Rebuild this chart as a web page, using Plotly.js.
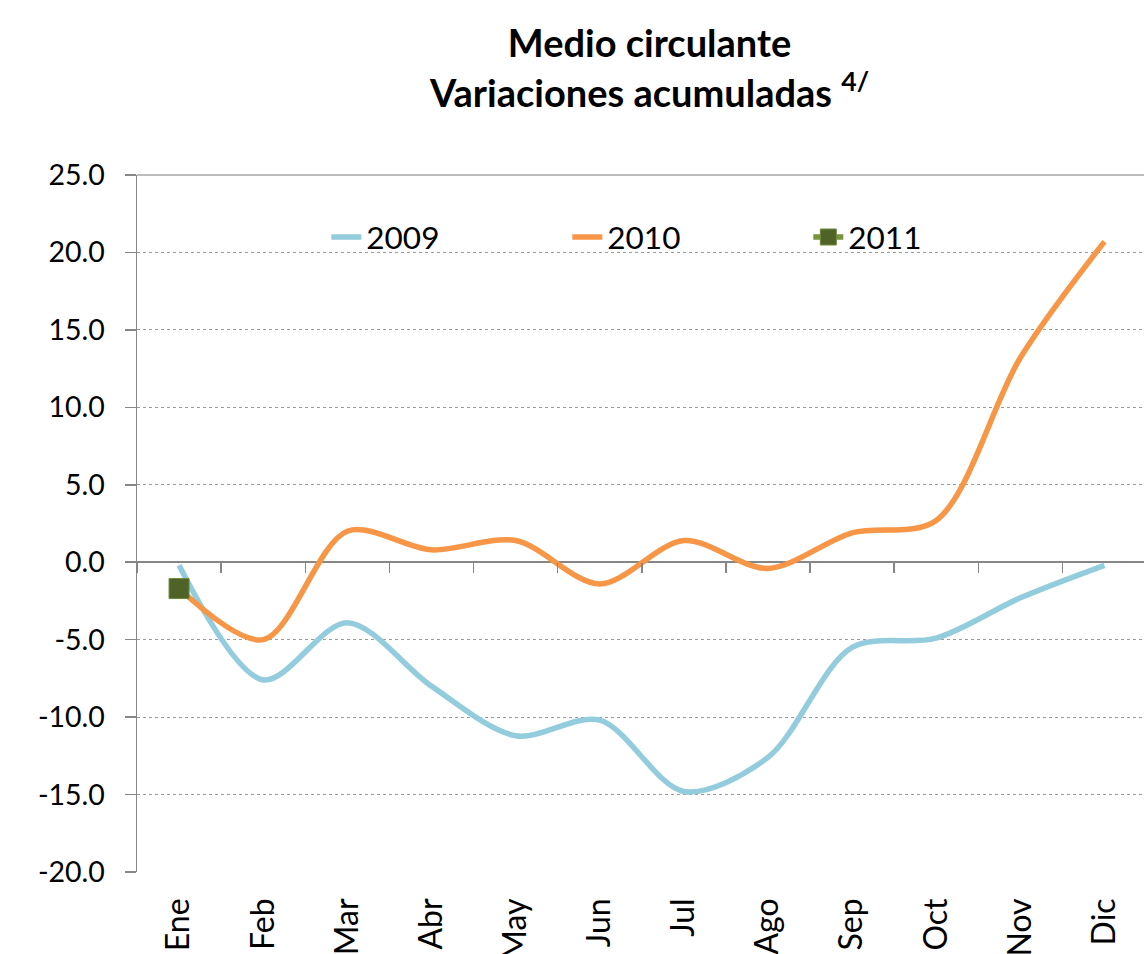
<!DOCTYPE html>
<html>
<head>
<meta charset="utf-8">
<script src="https://cdn.plot.ly/plotly-3.0.1.min.js"></script>
<style>html,body{margin:0;padding:0;background:#fff;}#chart{width:1144px;height:954px;}</style>
</head>
<body>
<div id="chart"></div>
<script>
const months = ["Ene","Feb","Mar","Abr","May","Jun","Jul","Ago","Sep","Oct","Nov","Dic"];
const y2009 = [-0.2,-7.6,-3.9,-8.0,-11.2,-10.2,-14.8,-12.6,-5.5,-4.9,-2.3,-0.2];
const y2010 = [-1.7,-5.0,2.0,0.8,1.4,-1.4,1.4,-0.4,1.9,2.7,13.2,20.7];
const months2011 = ["Ene"];
const y2011 = [-1.7];
const yTickVals = [-20,-15,-10,-5,0,5,10,15,20,25];
const yTickText = ["-20.0","-15.0","-10.0","-5.0","0.0","5.0","10.0","15.0","20.0","25.0"];

const FONT = "Lato, 'Open Sans', sans-serif";

const traces = [
  {x: months, y: y2009, name: "2009", type: "scatter", mode: "lines",
   line: {color: "#93CDDD", width: 5.5, shape: "spline", smoothing: 0.9}},
  {x: months, y: y2010, name: "2010", type: "scatter", mode: "lines",
   line: {color: "#F79646", width: 5.5, shape: "spline", smoothing: 0.9}},
  {x: months2011, y: y2011, name: "2011", type: "scatter", mode: "lines+markers",
   line: {color: "#77933C", width: 5.5},
   marker: {symbol: "square", size: 20, color: "#4F6228", line: {color: "#6E8A3A", width: 1}}},
  {x: months, y: months.map(() => null), xaxis: "x2", type: "scatter", mode: "lines",
   showlegend: false, hoverinfo: "skip"}
];

const layout = {
  width: 1144, height: 954,
  margin: {l: 137, r: 0, t: 175, b: 82, autoexpand: false},
  paper_bgcolor: "#fff", plot_bgcolor: "#fff",
  font: {family: FONT, color: "#000", size: 28},
  title: {text: "<b>Medio circulante<br>Variaciones acumuladas <sup>4/</sup></b>",
          x: 0.509, xanchor: "center", xref: "paper", y: 0.94, yref: "container", yanchor: "top",
          font: {family: FONT, size: 38, color: "#000"}},
  showlegend: true,
  legend: {orientation: "h", x: 0.188, xanchor: "left", y: 0.911, yanchor: "middle",
           font: {family: FONT, size: 31.5, color: "#000"}, entrywidth: 196, entrywidthmode: "pixels",
           bgcolor: "rgba(0,0,0,0)", traceorder: "normal"},
  xaxis: {type: "category", categoryorder: "array", categoryarray: months,
          range: [-0.5, 11.47], showgrid: false, showline: false, zeroline: false,
          ticks: "", tickangle: -90, tickfont: {family: FONT, size: 32, color: "#000"},
          ticklabelstandoff: 19, automargin: false, fixedrange: true},
  xaxis2: {type: "category", categoryorder: "array", categoryarray: months,
           range: [-0.5, 11.47], overlaying: "x", anchor: "free", position: 20/45,
           showgrid: false, showline: false, zeroline: false, showticklabels: false,
           ticks: "outside", ticklen: 10, tickwidth: 1.5, tickcolor: "#868686",
           tickson: "boundaries"},
  yaxis: {range: [-20, 25], tickmode: "array", tickvals: yTickVals, ticktext: yTickText,
          showgrid: true, gridcolor: "#9A9A9A", griddash: "dot", gridwidth: 1,
          zeroline: true, zerolinecolor: "#868686", zerolinewidth: 1.5,
          showline: true, linecolor: "#868686", linewidth: 1.5,
          ticks: "outside", ticklen: 11, tickcolor: "#868686", tickwidth: 1.5,
          tickfont: {family: FONT, size: 28.5, color: "#000"}, ticklabelstandoff: 14,
          automargin: false},
  shapes: [{type: "line", xref: "paper", yref: "paper", x0: 0, x1: 1, y0: 1, y1: 1,
            line: {color: "#A6A6A6", width: 1.5}}]
};

Plotly.newPlot("chart", traces, layout, {displayModeBar: false, staticPlot: true});
</script>
</body>
</html>
